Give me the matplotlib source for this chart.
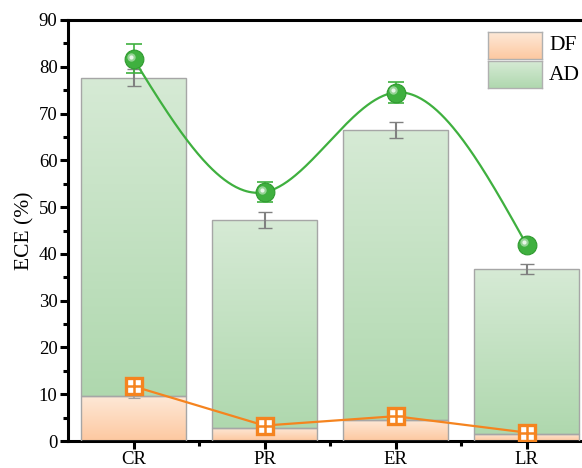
import numpy as np
import matplotlib
matplotlib.use('Agg')
import matplotlib.pyplot as plt
import matplotlib.transforms as mtransforms
from matplotlib.colors import LinearSegmentedColormap
from matplotlib.ticker import MultipleLocator, FixedLocator

plt.rcParams['font.family'] = ['Liberation Serif', 'DejaVu Serif']

# dados de ECE (%) por amostra
categorias = ['CR', 'PR', 'ER', 'LR']
df_barra = [9.7, 2.8, 4.5, 1.6]          # parcela DF
total_barra = [77.7, 47.2, 66.5, 36.7]   # topo da pilha DF + AD
erro_total = [1.8, 1.7, 1.7, 1.1]
erro_df = [0.6, 0.3, 0.4, 0.2]
ad_linha = [81.7, 53.2, 74.5, 42.0]
erro_ad_linha = [3.1, 2.1, 2.2, 0.0]
df_linha = [11.7, 3.3, 5.3, 1.8]

ad_barra = [t - d for t, d in zip(total_barra, df_barra)]

cmap_df = LinearSegmentedColormap.from_list('df', ['#fdc8a0', '#fee9d8'])
cmap_ad = LinearSegmentedColormap.from_list('ad', ['#afd8ae', '#d6ead5'])
gradiente = np.linspace(0, 1, 256).reshape(-1, 1)

fig = plt.figure(figsize=(5.82, 4.68), dpi=100)
ax = fig.add_axes([68 / 582, 27 / 468, 524 / 582, 421 / 468])

x = np.arange(len(categorias))
largura = 0.8


def barras_gradiente(base, altura, cmap):
    barras = ax.bar(x, altura, largura, bottom=base, facecolor='none',
                    edgecolor='#a6a6a6', linewidth=1.0, zorder=3)
    for b in barras:
        x0, y0 = b.get_x(), b.get_y()
        im = ax.imshow(gradiente, cmap=cmap, origin='lower', aspect='auto',
                       extent=(x0, x0 + b.get_width(), y0, y0 + b.get_height()),
                       zorder=2, interpolation='bicubic')
        im.set_clip_path(b)
    return barras


barras_gradiente(0, df_barra, cmap_df)
barras_gradiente(df_barra, ad_barra, cmap_ad)

ax.errorbar(x, total_barra, yerr=erro_total, fmt='none', ecolor='#808080',
            elinewidth=1.5, capsize=5, capthick=1.0, zorder=4)
ax.errorbar(x, df_barra, yerr=erro_df, fmt='none', ecolor='#a0a0a0',
            elinewidth=1.2, capsize=4, capthick=0.8, zorder=4)

# curva suave (spline cúbica natural) pelos pontos de AD
def spline_natural(xs, ys, xf):
    xs = np.asarray(xs, float)
    ys = np.asarray(ys, float)
    n = len(xs)
    h = np.diff(xs)
    A = np.zeros((n, n))
    r = np.zeros(n)
    A[0, 0] = A[-1, -1] = 1
    for i in range(1, n - 1):
        A[i, i - 1] = h[i - 1]
        A[i, i] = 2 * (h[i - 1] + h[i])
        A[i, i + 1] = h[i]
        r[i] = 6 * ((ys[i + 1] - ys[i]) / h[i] - (ys[i] - ys[i - 1]) / h[i - 1])
    M = np.linalg.solve(A, r)
    out = np.empty_like(xf)
    for k, xv in enumerate(xf):
        i = min(max(np.searchsorted(xs, xv) - 1, 0), n - 2)
        t1 = xs[i + 1] - xv
        t0 = xv - xs[i]
        out[k] = (M[i] * t1 ** 3 + M[i + 1] * t0 ** 3) / (6 * h[i]) \
            + (ys[i] / h[i] - M[i] * h[i] / 6) * t1 \
            + (ys[i + 1] / h[i] - M[i + 1] * h[i] / 6) * t0
    return out


verde = '#3fb03f'
laranja = '#f5841f'
xf = np.linspace(0, 3, 300)
ax.plot(xf, spline_natural(x, ad_linha, xf), color=verde, lw=1.6, zorder=5)
ax.errorbar(x, ad_linha, yerr=erro_ad_linha, fmt='none', ecolor=verde,
            elinewidth=1.2, capsize=6, capthick=1.2, zorder=5)
ax.plot(x, ad_linha, 'o', ms=13.5, color=verde, mec='#2f9a2f', mew=0.8, zorder=6)
brilho = mtransforms.offset_copy(ax.transData, fig=fig, x=-1.5, y=1.5, units='points')
ax.plot(x, ad_linha, 'o', ms=6, color='white', alpha=0.45, mew=0, zorder=7,
        transform=brilho)
ax.plot(x, ad_linha, 'o', ms=3, color='white', alpha=0.8, mew=0, zorder=7,
        transform=brilho)

ax.plot(x, df_linha, '-', color=laranja, lw=1.6, zorder=5)
ax.plot(x, df_linha, 's', ms=11.5, mfc='white', mec=laranja, mew=2.4, zorder=6)
ax.plot(x, df_linha, '+', ms=9.5, mec=laranja, mew=1.8, zorder=7)

ax.set_xlim(-0.5, 3.5)
ax.set_ylim(0, 90)
ax.set_xticks(x)
ax.set_xticklabels(categorias)
ax.xaxis.set_minor_locator(FixedLocator([0.5, 1.5, 2.5]))
ax.yaxis.set_major_locator(MultipleLocator(10))
ax.yaxis.set_minor_locator(MultipleLocator(5))
ax.tick_params(which='major', direction='out', length=5.5, width=2.2, labelsize=13.5, pad=2)
ax.tick_params(axis='x', which='major', pad=1.5)
ax.tick_params(which='minor', direction='out', length=3.5, width=2.2)
ax.set_ylabel('ECE (%)', fontsize=15.5, labelpad=3)
for s in ax.spines.values():
    s.set_linewidth(2.2)

# legenda com gradiente
for (y0, cmap, nome) in [(32, cmap_df, 'DF'), (61, cmap_ad, 'AD')]:
    lax = fig.add_axes([488 / 582, 1 - (y0 + 27) / 468, 54 / 582, 27 / 468])
    lax.imshow(gradiente, cmap=cmap, origin='lower', aspect='auto')
    lax.set_xticks([])
    lax.set_yticks([])
    for s in lax.spines.values():
        s.set_color('#b0b0b0')
        s.set_linewidth(1.0)
    fig.text(549 / 582, 1 - (y0 + 14) / 468, nome, fontsize=15.5, va='center', ha='left')

fig.savefig('out.png', dpi=100)
